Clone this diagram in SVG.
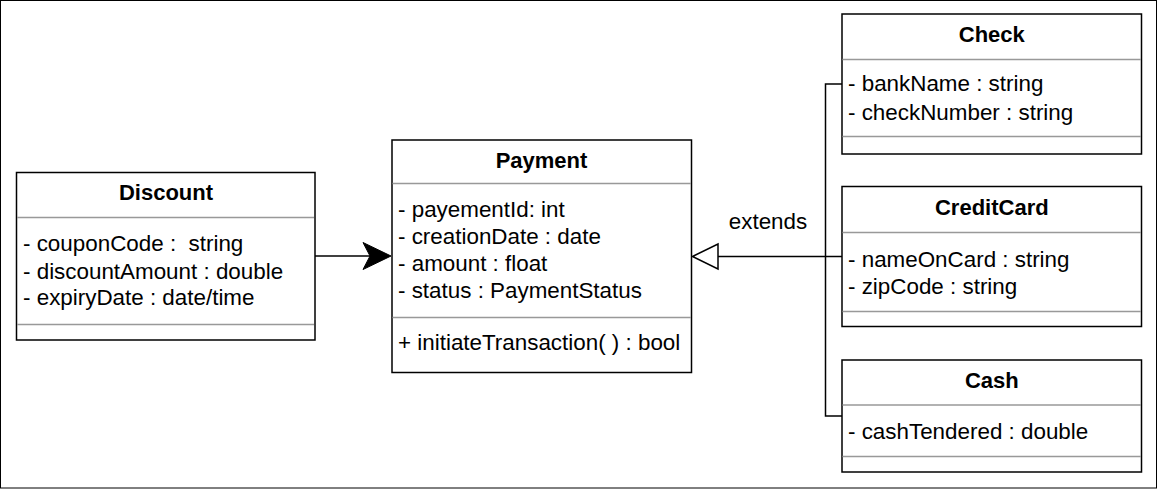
<svg xmlns="http://www.w3.org/2000/svg" width="1158" height="489" viewBox="0 0 1158 489">
<defs>
<style>
.box{fill:#fff;stroke:#000;stroke-width:1.5}
.div{stroke:#999;stroke-width:1.5}
.t{font-family:"Liberation Sans",Arial,sans-serif;font-size:22.4px;fill:#000}
.h{font-family:"Liberation Sans",Arial,sans-serif;font-size:22px;font-weight:bold;fill:#000;text-anchor:middle}
.ln{fill:none;stroke:#000;stroke-width:1.5}
</style>
</defs>
<rect x="0.5" y="0.5" width="1156" height="487.5" fill="#fff" stroke="#000" stroke-width="1"/>
<g id="connectors">
<line class="ln" x1="315" y1="256" x2="372" y2="256"/>
<path d="M391,256 L363,242.5 L370,256 L363,269.5 Z" fill="#000" stroke="#000" stroke-width="1"/>
<polyline class="ln" points="842,84 825.5,84 825.5,416 842,416"/>
<line class="ln" x1="718" y1="256.5" x2="842" y2="256.5"/>
<path d="M692.5,256.5 L718,244 L718,269 Z" fill="#fff" stroke="#000" stroke-width="1.5"/>
<text class="t" x="768" y="229" text-anchor="middle">extends</text>
</g>
<g id="discount">
<rect class="box" x="16.5" y="172.5" width="298.5" height="167.5"/>
<line class="div" x1="17" y1="217.5" x2="314" y2="217.5"/>
<line class="div" x1="17" y1="324.5" x2="314" y2="324.5"/>
<text class="h" x="166" y="200">Discount</text>
<text class="t" x="23" y="251" xml:space="preserve">- couponCode :  string</text>
<text class="t" x="23" y="278.5">- discountAmount : double</text>
<text class="t" x="23" y="305">- expiryDate : date/time</text>
</g>
<g id="payment">
<rect class="box" x="392" y="140" width="299.5" height="232.5"/>
<line class="div" x1="392.5" y1="183.5" x2="691" y2="183.5"/>
<line class="div" x1="392.5" y1="317.5" x2="691" y2="317.5"/>
<text class="h" x="541.5" y="167.5">Payment</text>
<text class="t" x="398" y="217">- payementId: int</text>
<text class="t" x="398" y="244">- creationDate : date</text>
<text class="t" x="398" y="271">- amount : float</text>
<text class="t" x="398" y="298">- status : PaymentStatus</text>
<text class="t" x="398" y="349.5">+ initiateTransaction( ) : bool</text>
</g>
<g id="check">
<rect class="box" x="842" y="14" width="299.5" height="140"/>
<line class="div" x1="842.5" y1="59.5" x2="1141" y2="59.5"/>
<line class="div" x1="842.5" y1="136.5" x2="1141" y2="136.5"/>
<text class="h" x="991.8" y="42">Check</text>
<text class="t" x="848" y="91">- bankName : string</text>
<text class="t" x="848" y="119.5">- checkNumber : string</text>
</g>
<g id="creditcard">
<rect class="box" x="842" y="186.5" width="299.5" height="140"/>
<line class="div" x1="842.5" y1="232.5" x2="1141" y2="232.5"/>
<line class="div" x1="842.5" y1="311.5" x2="1141" y2="311.5"/>
<text class="h" x="991.8" y="215">CreditCard</text>
<text class="t" x="848" y="266.5">- nameOnCard : string</text>
<text class="t" x="848" y="294">- zipCode : string</text>
</g>
<g id="cash">
<rect class="box" x="842" y="360" width="299.5" height="112"/>
<line class="div" x1="842.5" y1="405" x2="1141" y2="405"/>
<line class="div" x1="842.5" y1="456.5" x2="1141" y2="456.5"/>
<text class="h" x="991.8" y="387.5">Cash</text>
<text class="t" x="848" y="439">- cashTendered : double</text>
</g>
</svg>
